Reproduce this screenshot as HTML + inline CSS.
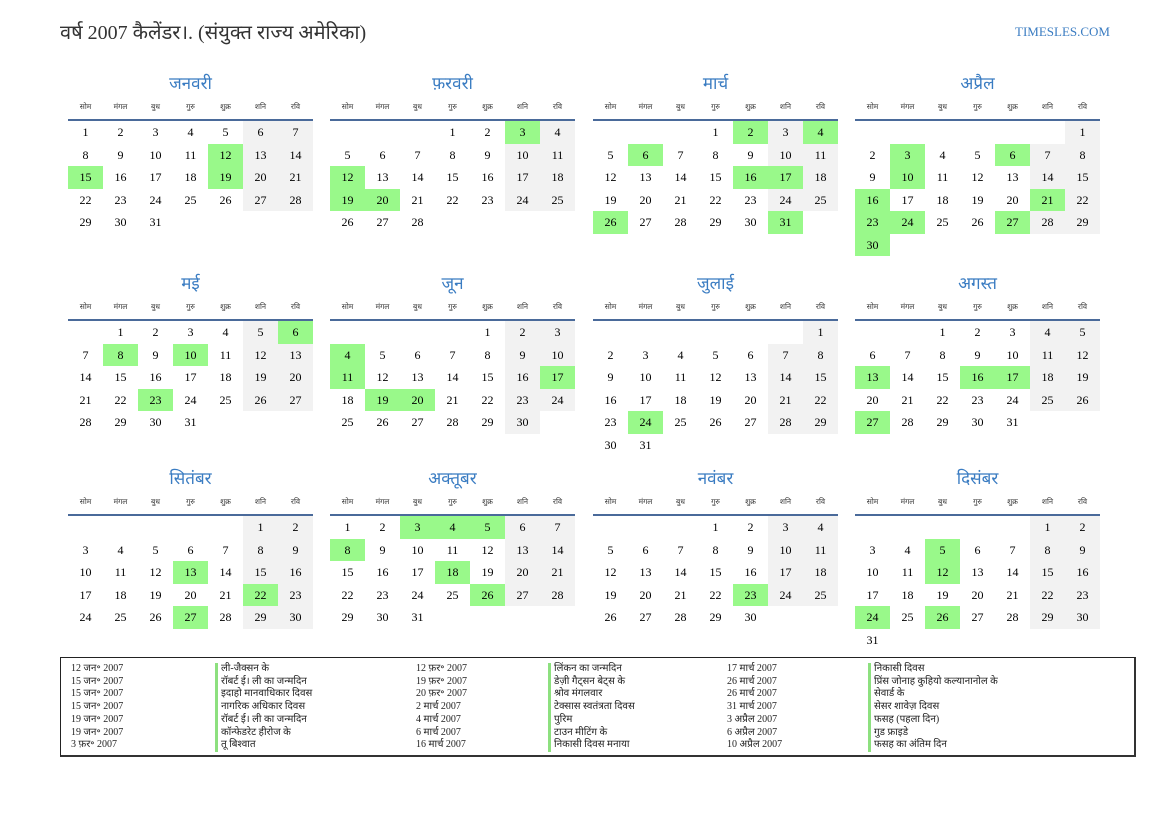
<!DOCTYPE html>
<html><head><meta charset="utf-8">
<style>
body{margin:0;width:1169px;height:827px;background:#fff;position:relative;font-family:"Liberation Serif","Noto Serif CJK SC",serif;color:#000;overflow:hidden}
.h{position:absolute;left:60px;top:18px;font-size:20px;color:#333;font-family:"Liberation Serif","Noto Sans CJK SC",serif}
.site{position:absolute;right:59px;top:24px;font-size:13px;color:#3a7cc2}
.m{position:absolute;width:245px}
.t{height:24px;text-align:center;font-size:17px;color:#3a7cc2;line-height:24px;font-family:"Liberation Sans","Noto Sans CJK SC",sans-serif}
.dn{display:flex;height:24px;border-bottom:2px solid #4a6a9a;box-sizing:border-box;margin-top:1px}
.dn span{flex:1;text-align:center;font-size:7.5px;line-height:20px;color:#333;font-family:"Liberation Sans","Noto Sans CJK SC",sans-serif}
table{border-collapse:collapse;table-layout:fixed;width:245px}
td{width:35px;height:22.5px;padding:0;text-align:center;font-size:12px;line-height:22.5px}
td.w{background:#f2f2f2}td.g{background:#99f98a}
.lg{position:absolute;left:60px;top:657px;width:1076px;height:100px;border:1px solid #222;border-right:2px solid #333;border-bottom:2px solid #333;box-sizing:border-box}
.c{position:absolute;top:5px;font-size:10px;line-height:12.7px;white-space:nowrap;color:#222}
.n div{border-left:3px solid #8de07f;padding-left:3px}
</style></head><body>
<div class="h">वर्ष 2007 कैलेंडर।. (संयुक्त राज्य अमेरिका)</div>
<div class="site">TIMESLES.COM</div>

<div class="m" style="left:68px;top:72px"><div class="t">जनवरी</div><div class="dn"><span>सोम</span><span>मंगल</span><span>बुध</span><span>गुरु</span><span>शुक्र</span><span>शनि</span><span>रवि</span></div><table>
<tr><td>1</td><td>2</td><td>3</td><td>4</td><td>5</td><td class=w>6</td><td class=w>7</td></tr>
<tr><td>8</td><td>9</td><td>10</td><td>11</td><td class=g>12</td><td class=w>13</td><td class=w>14</td></tr>
<tr><td class=g>15</td><td>16</td><td>17</td><td>18</td><td class=g>19</td><td class=w>20</td><td class=w>21</td></tr>
<tr><td>22</td><td>23</td><td>24</td><td>25</td><td>26</td><td class=w>27</td><td class=w>28</td></tr>
<tr><td>29</td><td>30</td><td>31</td><td></td><td></td><td></td><td></td></tr></table></div>

<div class="m" style="left:330px;top:72px"><div class="t">फ़रवरी</div><div class="dn"><span>सोम</span><span>मंगल</span><span>बुध</span><span>गुरु</span><span>शुक्र</span><span>शनि</span><span>रवि</span></div><table>
<tr><td></td><td></td><td></td><td>1</td><td>2</td><td class=g>3</td><td class=w>4</td></tr>
<tr><td>5</td><td>6</td><td>7</td><td>8</td><td>9</td><td class=w>10</td><td class=w>11</td></tr>
<tr><td class=g>12</td><td>13</td><td>14</td><td>15</td><td>16</td><td class=w>17</td><td class=w>18</td></tr>
<tr><td class=g>19</td><td class=g>20</td><td>21</td><td>22</td><td>23</td><td class=w>24</td><td class=w>25</td></tr>
<tr><td>26</td><td>27</td><td>28</td><td></td><td></td><td></td><td></td></tr></table></div>

<div class="m" style="left:593px;top:72px"><div class="t">मार्च</div><div class="dn"><span>सोम</span><span>मंगल</span><span>बुध</span><span>गुरु</span><span>शुक्र</span><span>शनि</span><span>रवि</span></div><table>
<tr><td></td><td></td><td></td><td>1</td><td class=g>2</td><td class=w>3</td><td class=g>4</td></tr>
<tr><td>5</td><td class=g>6</td><td>7</td><td>8</td><td>9</td><td class=w>10</td><td class=w>11</td></tr>
<tr><td>12</td><td>13</td><td>14</td><td>15</td><td class=g>16</td><td class=g>17</td><td class=w>18</td></tr>
<tr><td>19</td><td>20</td><td>21</td><td>22</td><td>23</td><td class=w>24</td><td class=w>25</td></tr>
<tr><td class=g>26</td><td>27</td><td>28</td><td>29</td><td>30</td><td class=g>31</td><td></td></tr></table></div>

<div class="m" style="left:855px;top:72px"><div class="t">अप्रैल</div><div class="dn"><span>सोम</span><span>मंगल</span><span>बुध</span><span>गुरु</span><span>शुक्र</span><span>शनि</span><span>रवि</span></div><table>
<tr><td></td><td></td><td></td><td></td><td></td><td></td><td class=w>1</td></tr>
<tr><td>2</td><td class=g>3</td><td>4</td><td>5</td><td class=g>6</td><td class=w>7</td><td class=w>8</td></tr>
<tr><td>9</td><td class=g>10</td><td>11</td><td>12</td><td>13</td><td class=w>14</td><td class=w>15</td></tr>
<tr><td class=g>16</td><td>17</td><td>18</td><td>19</td><td>20</td><td class=g>21</td><td class=w>22</td></tr>
<tr><td class=g>23</td><td class=g>24</td><td>25</td><td>26</td><td class=g>27</td><td class=w>28</td><td class=w>29</td></tr>
<tr><td class=g>30</td><td></td><td></td><td></td><td></td><td></td><td></td></tr></table></div>

<div class="m" style="left:68px;top:272px"><div class="t">मई</div><div class="dn"><span>सोम</span><span>मंगल</span><span>बुध</span><span>गुरु</span><span>शुक्र</span><span>शनि</span><span>रवि</span></div><table>
<tr><td></td><td>1</td><td>2</td><td>3</td><td>4</td><td class=w>5</td><td class=g>6</td></tr>
<tr><td>7</td><td class=g>8</td><td>9</td><td class=g>10</td><td>11</td><td class=w>12</td><td class=w>13</td></tr>
<tr><td>14</td><td>15</td><td>16</td><td>17</td><td>18</td><td class=w>19</td><td class=w>20</td></tr>
<tr><td>21</td><td>22</td><td class=g>23</td><td>24</td><td>25</td><td class=w>26</td><td class=w>27</td></tr>
<tr><td>28</td><td>29</td><td>30</td><td>31</td><td></td><td></td><td></td></tr></table></div>

<div class="m" style="left:330px;top:272px"><div class="t">जून</div><div class="dn"><span>सोम</span><span>मंगल</span><span>बुध</span><span>गुरु</span><span>शुक्र</span><span>शनि</span><span>रवि</span></div><table>
<tr><td></td><td></td><td></td><td></td><td>1</td><td class=w>2</td><td class=w>3</td></tr>
<tr><td class=g>4</td><td>5</td><td>6</td><td>7</td><td>8</td><td class=w>9</td><td class=w>10</td></tr>
<tr><td class=g>11</td><td>12</td><td>13</td><td>14</td><td>15</td><td class=w>16</td><td class=g>17</td></tr>
<tr><td>18</td><td class=g>19</td><td class=g>20</td><td>21</td><td>22</td><td class=w>23</td><td class=w>24</td></tr>
<tr><td>25</td><td>26</td><td>27</td><td>28</td><td>29</td><td class=w>30</td><td></td></tr></table></div>

<div class="m" style="left:593px;top:272px"><div class="t">जुलाई</div><div class="dn"><span>सोम</span><span>मंगल</span><span>बुध</span><span>गुरु</span><span>शुक्र</span><span>शनि</span><span>रवि</span></div><table>
<tr><td></td><td></td><td></td><td></td><td></td><td></td><td class=w>1</td></tr>
<tr><td>2</td><td>3</td><td>4</td><td>5</td><td>6</td><td class=w>7</td><td class=w>8</td></tr>
<tr><td>9</td><td>10</td><td>11</td><td>12</td><td>13</td><td class=w>14</td><td class=w>15</td></tr>
<tr><td>16</td><td>17</td><td>18</td><td>19</td><td>20</td><td class=w>21</td><td class=w>22</td></tr>
<tr><td>23</td><td class=g>24</td><td>25</td><td>26</td><td>27</td><td class=w>28</td><td class=w>29</td></tr>
<tr><td>30</td><td>31</td><td></td><td></td><td></td><td></td><td></td></tr></table></div>

<div class="m" style="left:855px;top:272px"><div class="t">अगस्त</div><div class="dn"><span>सोम</span><span>मंगल</span><span>बुध</span><span>गुरु</span><span>शुक्र</span><span>शनि</span><span>रवि</span></div><table>
<tr><td></td><td></td><td>1</td><td>2</td><td>3</td><td class=w>4</td><td class=w>5</td></tr>
<tr><td>6</td><td>7</td><td>8</td><td>9</td><td>10</td><td class=w>11</td><td class=w>12</td></tr>
<tr><td class=g>13</td><td>14</td><td>15</td><td class=g>16</td><td class=g>17</td><td class=w>18</td><td class=w>19</td></tr>
<tr><td>20</td><td>21</td><td>22</td><td>23</td><td>24</td><td class=w>25</td><td class=w>26</td></tr>
<tr><td class=g>27</td><td>28</td><td>29</td><td>30</td><td>31</td><td></td><td></td></tr></table></div>

<div class="m" style="left:68px;top:467px"><div class="t">सितंबर</div><div class="dn"><span>सोम</span><span>मंगल</span><span>बुध</span><span>गुरु</span><span>शुक्र</span><span>शनि</span><span>रवि</span></div><table>
<tr><td></td><td></td><td></td><td></td><td></td><td class=w>1</td><td class=w>2</td></tr>
<tr><td>3</td><td>4</td><td>5</td><td>6</td><td>7</td><td class=w>8</td><td class=w>9</td></tr>
<tr><td>10</td><td>11</td><td>12</td><td class=g>13</td><td>14</td><td class=w>15</td><td class=w>16</td></tr>
<tr><td>17</td><td>18</td><td>19</td><td>20</td><td>21</td><td class=g>22</td><td class=w>23</td></tr>
<tr><td>24</td><td>25</td><td>26</td><td class=g>27</td><td>28</td><td class=w>29</td><td class=w>30</td></tr></table></div>

<div class="m" style="left:330px;top:467px"><div class="t">अक्तूबर</div><div class="dn"><span>सोम</span><span>मंगल</span><span>बुध</span><span>गुरु</span><span>शुक्र</span><span>शनि</span><span>रवि</span></div><table>
<tr><td>1</td><td>2</td><td class=g>3</td><td class=g>4</td><td class=g>5</td><td class=w>6</td><td class=w>7</td></tr>
<tr><td class=g>8</td><td>9</td><td>10</td><td>11</td><td>12</td><td class=w>13</td><td class=w>14</td></tr>
<tr><td>15</td><td>16</td><td>17</td><td class=g>18</td><td>19</td><td class=w>20</td><td class=w>21</td></tr>
<tr><td>22</td><td>23</td><td>24</td><td>25</td><td class=g>26</td><td class=w>27</td><td class=w>28</td></tr>
<tr><td>29</td><td>30</td><td>31</td><td></td><td></td><td></td><td></td></tr></table></div>

<div class="m" style="left:593px;top:467px"><div class="t">नवंबर</div><div class="dn"><span>सोम</span><span>मंगल</span><span>बुध</span><span>गुरु</span><span>शुक्र</span><span>शनि</span><span>रवि</span></div><table>
<tr><td></td><td></td><td></td><td>1</td><td>2</td><td class=w>3</td><td class=w>4</td></tr>
<tr><td>5</td><td>6</td><td>7</td><td>8</td><td>9</td><td class=w>10</td><td class=w>11</td></tr>
<tr><td>12</td><td>13</td><td>14</td><td>15</td><td>16</td><td class=w>17</td><td class=w>18</td></tr>
<tr><td>19</td><td>20</td><td>21</td><td>22</td><td class=g>23</td><td class=w>24</td><td class=w>25</td></tr>
<tr><td>26</td><td>27</td><td>28</td><td>29</td><td>30</td><td></td><td></td></tr></table></div>

<div class="m" style="left:855px;top:467px"><div class="t">दिसंबर</div><div class="dn"><span>सोम</span><span>मंगल</span><span>बुध</span><span>गुरु</span><span>शुक्र</span><span>शनि</span><span>रवि</span></div><table>
<tr><td></td><td></td><td></td><td></td><td></td><td class=w>1</td><td class=w>2</td></tr>
<tr><td>3</td><td>4</td><td class=g>5</td><td>6</td><td>7</td><td class=w>8</td><td class=w>9</td></tr>
<tr><td>10</td><td>11</td><td class=g>12</td><td>13</td><td>14</td><td class=w>15</td><td class=w>16</td></tr>
<tr><td>17</td><td>18</td><td>19</td><td>20</td><td>21</td><td class=w>22</td><td class=w>23</td></tr>
<tr><td class=g>24</td><td>25</td><td class=g>26</td><td>27</td><td>28</td><td class=w>29</td><td class=w>30</td></tr>
<tr><td>31</td><td></td><td></td><td></td><td></td><td></td><td></td></tr></table></div>

<div class="lg">
<div class="c" style="left:10px"><div>12 जन॰ 2007</div><div>15 जन॰ 2007</div><div>15 जन॰ 2007</div><div>15 जन॰ 2007</div><div>19 जन॰ 2007</div><div>19 जन॰ 2007</div><div>3 फ़र॰ 2007</div></div>
<div class="c n" style="left:154px"><div>ली-जैक्सन के</div><div>रॉबर्ट ई। ली का जन्मदिन</div><div>इदाहो मानवाधिकार दिवस</div><div>नागरिक अधिकार दिवस</div><div>रॉबर्ट ई। ली का जन्मदिन</div><div>कॉन्फेडरेट हीरोज के</div><div>तू बिश्वात</div></div>
<div class="c" style="left:355px"><div>12 फ़र॰ 2007</div><div>19 फ़र॰ 2007</div><div>20 फ़र॰ 2007</div><div>2 मार्च 2007</div><div>4 मार्च 2007</div><div>6 मार्च 2007</div><div>16 मार्च 2007</div></div>
<div class="c n" style="left:487px"><div>लिंकन का जन्मदिन</div><div>डेज़ी गैट्सन बेट्स के</div><div>श्रोव मंगलवार</div><div>टेक्सास स्वतंत्रता दिवस</div><div>पुरिम</div><div>टाउन मीटिंग के</div><div>निकासी दिवस मनाया</div></div>
<div class="c" style="left:666px"><div>17 मार्च 2007</div><div>26 मार्च 2007</div><div>26 मार्च 2007</div><div>31 मार्च 2007</div><div>3 अप्रैल 2007</div><div>6 अप्रैल 2007</div><div>10 अप्रैल 2007</div></div>
<div class="c n" style="left:807px"><div>निकासी दिवस</div><div>प्रिंस जोनाह कुहियो कल्यानानोल के</div><div>सेवार्ड के</div><div>सेसर शावेज़ दिवस</div><div>फसह (पहला दिन)</div><div>गुड फ्राइडे</div><div>फसह का अंतिम दिन</div></div>
</div>
</body></html>
